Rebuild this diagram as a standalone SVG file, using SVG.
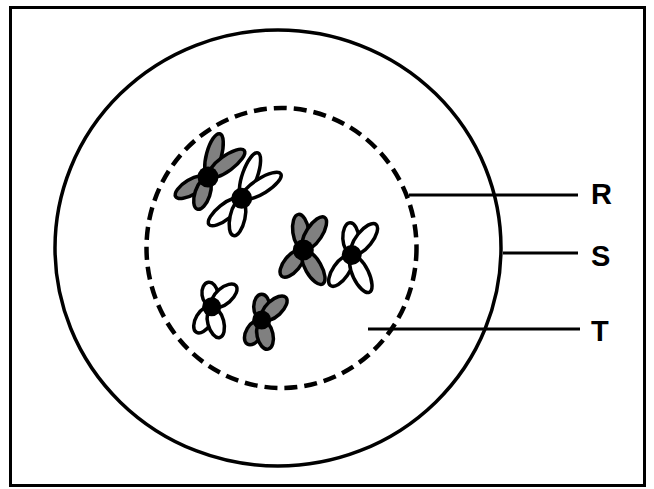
<svg xmlns="http://www.w3.org/2000/svg" width="654" height="489" viewBox="0 0 654 489">
<style>
.ln{stroke:#000;stroke-width:3;fill:none}
.dash{stroke:#000;stroke-width:4.5;fill:none;stroke-dasharray:13 7}
.g{fill:#808080;stroke:#000;stroke-width:3.5}
.w{fill:#fff;stroke:#000;stroke-width:3.5}
.cen{fill:#000}
.lbl{font-family:"Liberation Sans",Arial,sans-serif;font-weight:bold;font-size:29px;fill:#000}
</style>
<rect width="654" height="489" fill="#fff"/>
<g id="frame"><rect x="10.5" y="7.5" width="634" height="478" class="ln"/></g>
<g id="S"><ellipse cx="278" cy="248" rx="223" ry="218" class="ln" style="stroke-width:3.5"/></g>
<g id="R"><ellipse cx="281.5" cy="248" rx="135" ry="140" class="dash"/></g>
<g id="chrom-gray1">
<ellipse class="g" rx="22" ry="7.5" transform="translate(214,155) rotate(-74.7)"/>
<ellipse class="g" rx="22" ry="7.5" transform="translate(226.5,163.5) rotate(-36.1)"/>
<ellipse class="g" rx="18.5" ry="7.5" transform="translate(191.5,187) rotate(148.8)"/>
<ellipse class="g" rx="16.5" ry="7.5" transform="translate(202.5,193.5) rotate(108.4)"/>
<circle class="cen" cx="208" cy="177" r="10.5"/>
</g>
<g id="chrom-white1">
<ellipse class="w" rx="23.5" ry="7.5" transform="translate(250,175) rotate(-70.4)"/>
<ellipse class="w" rx="22.5" ry="7.5" transform="translate(261.7,185.8) rotate(-32)"/>
<ellipse class="w" rx="20.5" ry="7.5" transform="translate(225,211.7) rotate(141.4)"/>
<ellipse class="w" rx="18.5" ry="7.5" transform="translate(237.5,217.5) rotate(102.3)"/>
<circle class="cen" cx="241.7" cy="198.3" r="10.5"/>
</g>
<g id="chrom-gray2">
<ellipse class="g" rx="17.5" ry="8" transform="translate(300.8,231.7) rotate(-97.8)"/>
<ellipse class="g" rx="19" ry="8" transform="translate(314.2,233.3) rotate(-56.9)"/>
<ellipse class="g" rx="16.5" ry="8" transform="translate(292.2,263.5) rotate(129.5)"/>
<ellipse class="g" rx="19" ry="8" transform="translate(313.3,267.5) rotate(60.3)"/>
<circle class="cen" cx="303.3" cy="250" r="10.5"/>
</g>
<g id="chrom-white2">
<ellipse class="w" rx="15.5" ry="8" transform="translate(350.8,238.3) rotate(-93)"/>
<ellipse class="w" rx="19" ry="8" transform="translate(364.2,239.2) rotate(-51.7)"/>
<ellipse class="w" rx="18" ry="8" transform="translate(340.8,270.8) rotate(124.4)"/>
<ellipse class="w" rx="20" ry="8" transform="translate(360.8,274.2) rotate(64.5)"/>
<circle class="cen" cx="351.7" cy="255" r="10"/>
</g>
<g id="chrom-white3">
<ellipse class="w" rx="12" ry="8" transform="translate(210,294.2) rotate(-97.7)"/>
<ellipse class="w" rx="15.5" ry="8" transform="translate(224.2,295.8) rotate(-41)"/>
<ellipse class="w" rx="14.5" ry="8" transform="translate(203.8,319.8) rotate(120.8)"/>
<ellipse class="w" rx="15.5" ry="8" transform="translate(215.8,322.5) rotate(75.3)"/>
<circle class="cen" cx="211.7" cy="306.7" r="9.5"/>
</g>
<g id="chrom-gray3">
<ellipse class="g" rx="12.5" ry="8" transform="translate(261.7,306.7) rotate(-90)"/>
<ellipse class="g" rx="16" ry="8" transform="translate(274.2,308.3) rotate(-43)"/>
<ellipse class="g" rx="13.5" ry="8" transform="translate(254.2,332.5) rotate(121)"/>
<ellipse class="g" rx="14.5" ry="8" transform="translate(265,335) rotate(77.6)"/>
<circle class="cen" cx="261.7" cy="320" r="9.5"/>
</g>
<g id="connectors">
<line class="ln" x1="409" y1="195" x2="578" y2="195"/>
<line class="ln" x1="503" y1="253" x2="578" y2="253"/>
<line class="ln" x1="368" y1="329" x2="580" y2="329"/>
</g>
<g id="labels">
<text class="lbl" x="591" y="204">R</text>
<text class="lbl" x="591" y="266">S</text>
<text class="lbl" x="591" y="341">T</text>
</g>
</svg>
